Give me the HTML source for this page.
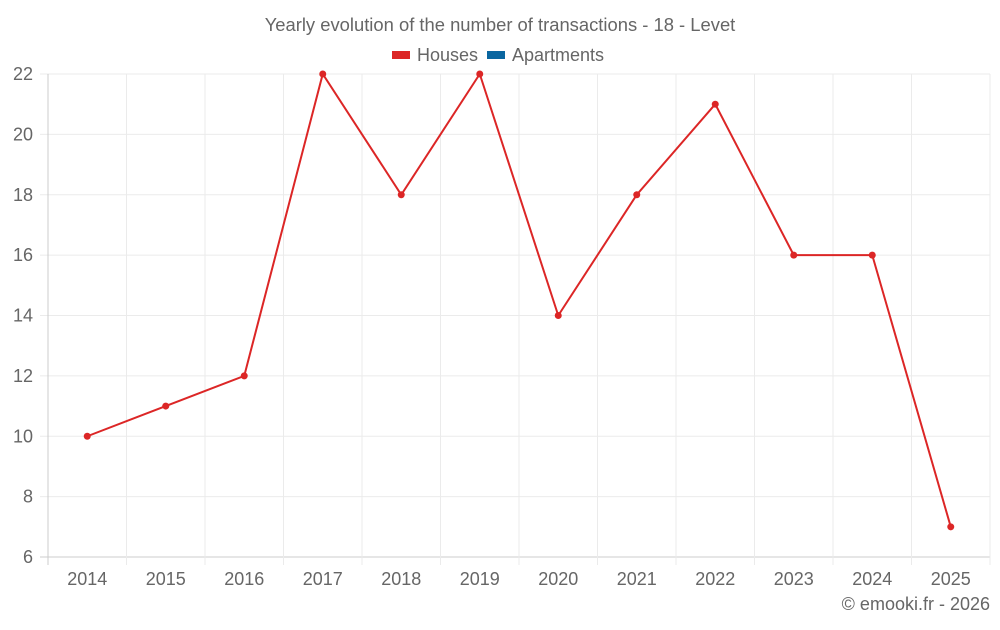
<!DOCTYPE html>
<html><head><meta charset="utf-8"><style>
body{margin:0;background:#fff;font-family:"Liberation Sans",sans-serif;}
svg text{font-family:"Liberation Sans",sans-serif;fill:#666;}
</style></head><body>
<svg id="c" width="1000" height="625">
<text x="500" y="31" text-anchor="middle" font-size="18.4">Yearly evolution of the number of transactions - 18 - Levet</text>
<g>
<g><rect x="392" y="51" width="18" height="8" fill="#dc2626"/><text x="417" y="61" font-size="18">Houses</text></g>
<g><rect x="487" y="51" width="18" height="8" fill="#0a66a0"/><text x="512" y="61" font-size="18">Apartments</text></g>
</g>
<g id="grid"></g><g id="axes"></g><g id="series"></g>
<text x="990" y="610" text-anchor="end" font-size="18">© emooki.fr - 2026</text>
</svg>
<script>
const years=["2014","2015","2016","2017","2018","2019","2020","2021","2022","2023","2024","2025"];
const houses=[10,11,12,22,18,22,14,18,21,16,16,7];
const yTicks=[6,8,10,12,14,16,18,20,22];
const ns="http://www.w3.org/2000/svg";
const L=48,R=990,T=74,B=557,yMin=6,yMax=22;
const bw=(R-L)/years.length;
const x=i=>L+bw*(i+0.5);
const y=v=>B-(v-yMin)/(yMax-yMin)*(B-T);
function mk(t,a,p){const e=document.createElementNS(ns,t);for(const k in a)e.setAttribute(k,a[k]);p.appendChild(e);return e;}
const g=document.getElementById('grid'),ax=document.getElementById('axes'),s=document.getElementById('series');
yTicks.forEach(v=>{
 const l=mk('line',{x1:L-8,x2:R,y1:y(v),y2:y(v),stroke:v===yMin?'#ccc':'#ebebeb'},g);
 
 
 const t=mk('text',{x:33,y:y(v)+6,'text-anchor':'end','font-size':18},ax);t.textContent=v;
 
 
});
for(let i=0;i<=years.length;i++){
 const l=mk('line',{x1:L+bw*i,x2:L+bw*i,y1:T,y2:B+8,stroke:i===0?'#ccc':'#ebebeb'},g);
 
 
}
years.forEach((yr,i)=>{
 const t=mk('text',{x:x(i),y:585,'text-anchor':'middle','font-size':18},ax);t.textContent=yr;
 
 
});
const pl=mk('polyline',{points:houses.map((v,i)=>x(i)+','+y(v)).join(' '),fill:'none',stroke:'#dc2626','stroke-width':2},s);


houses.forEach((v,i)=>{
 const c=mk('circle',{cx:x(i),cy:y(v),r:3.5,fill:'#dc2626'},s);
 
 
});
</script>
</body></html>
